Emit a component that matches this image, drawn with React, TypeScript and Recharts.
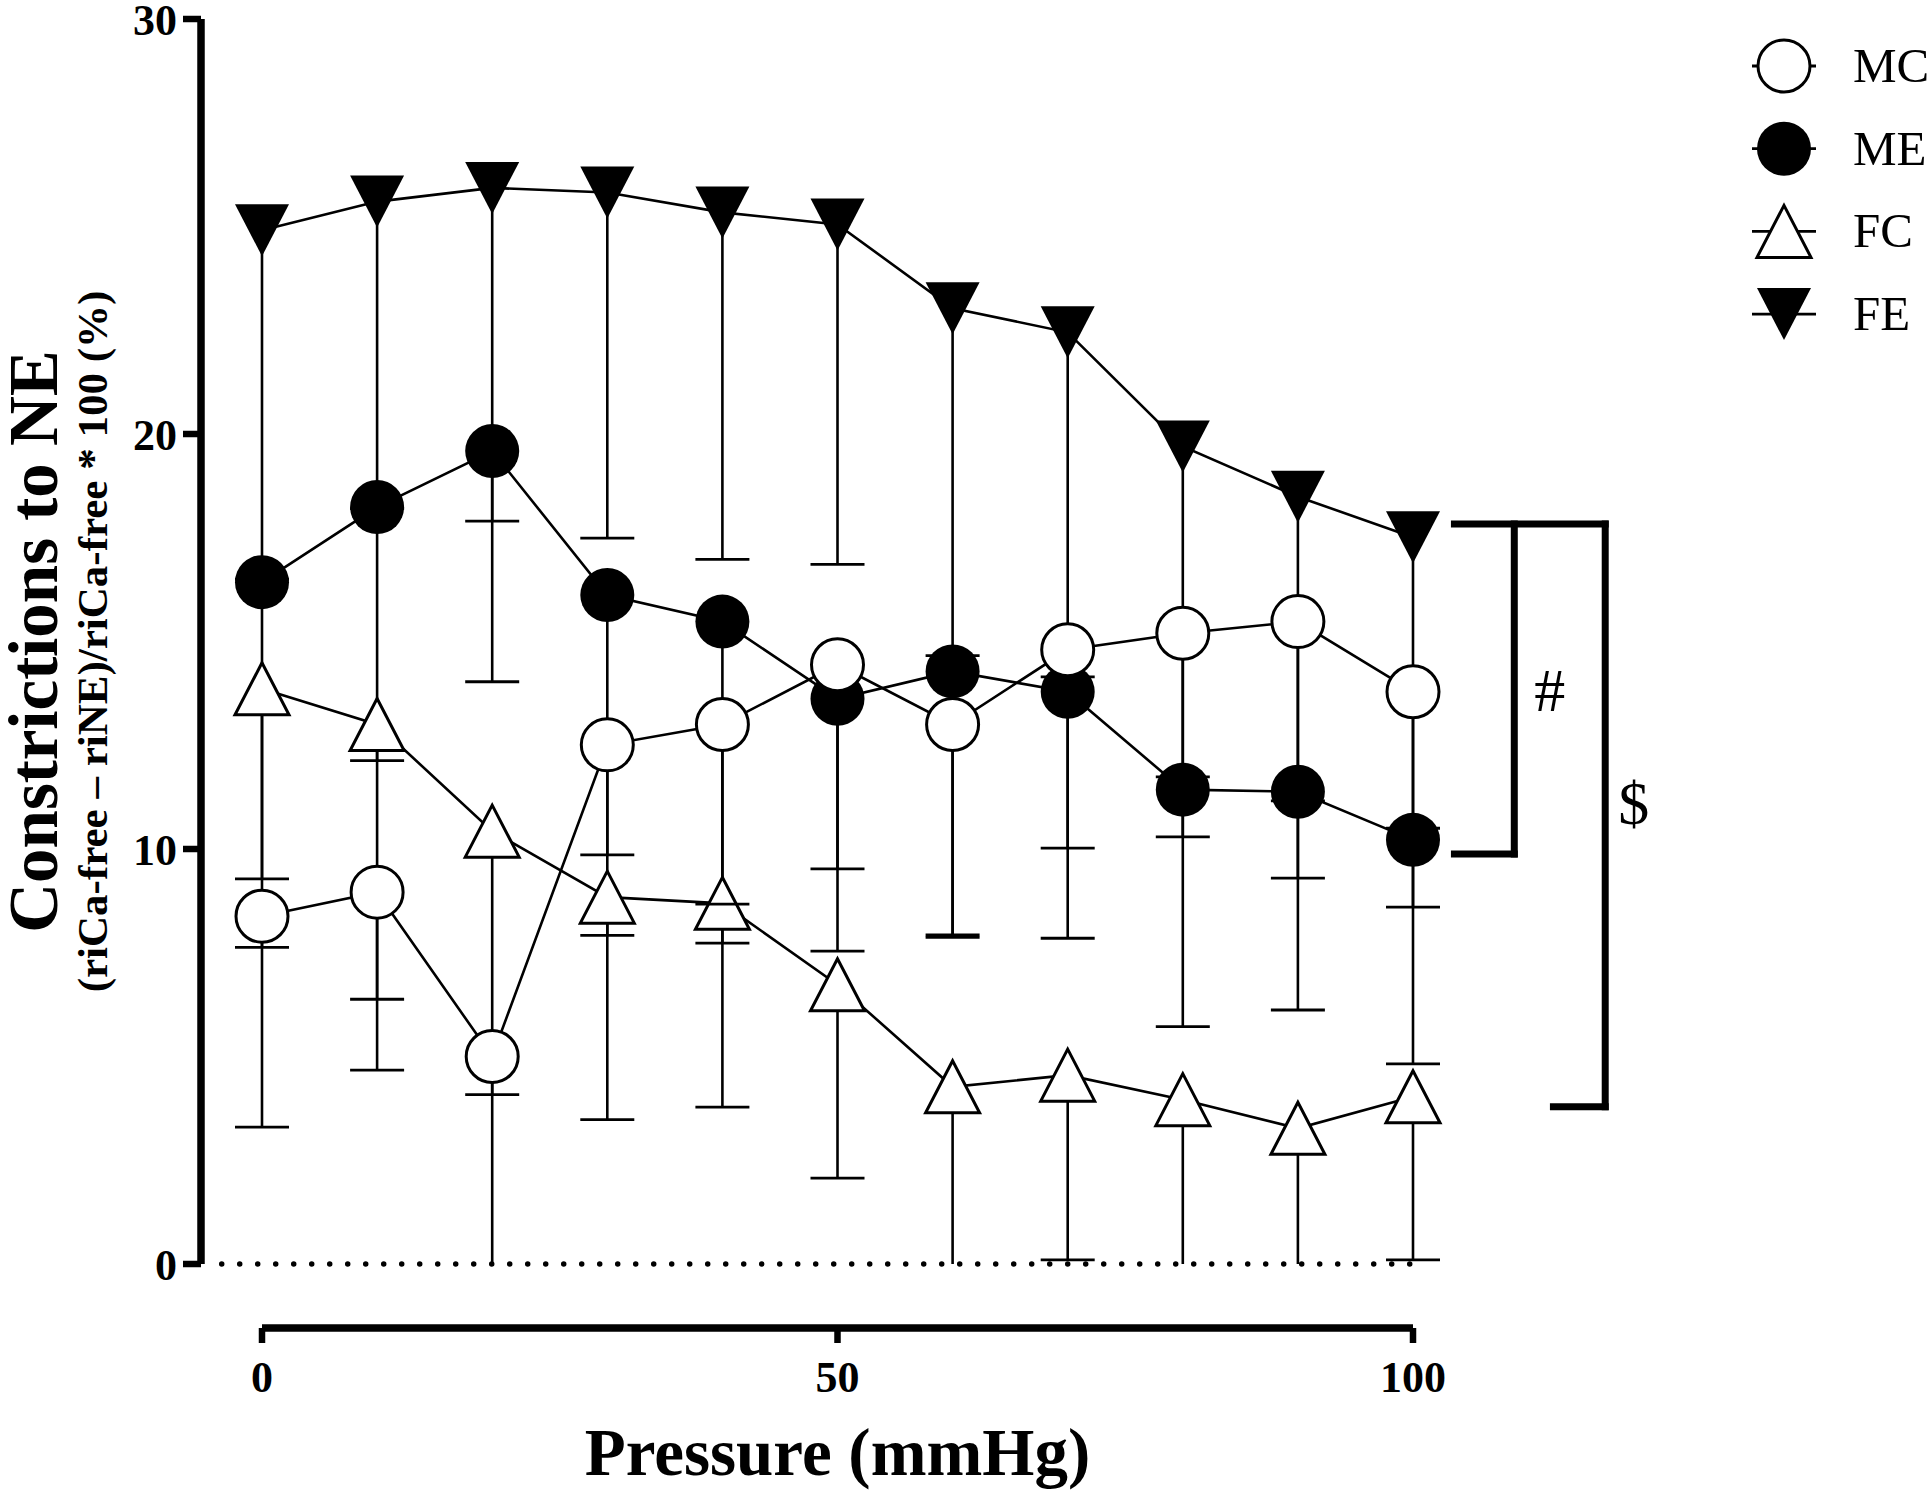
import React from 'react';
import { LineChart, Line, XAxis, YAxis, ErrorBar, ReferenceLine, Legend, Label } from 'recharts';

// ---------- data ----------
const PRESSURE = [0, 10, 20, 30, 40, 50, 60, 70, 80, 90, 100];
const MC = [8.38, 8.96, 5.0, 12.51, 13.0, 14.44, 13.0, 14.8, 15.2, 15.48, 13.79];
const ME = [16.43, 18.24, 19.59, 16.12, 15.48, 13.62, 14.28, 13.79, 11.43, 11.38, 10.22];
const FC = [13.86, 13.0, 10.43, 8.84, 8.69, 6.73, 4.27, 4.55, 3.96, 3.27, 4.03];
const FE = [24.91, 25.6, 25.93, 25.82, 25.34, 25.05, 23.03, 22.45, 19.7, 18.49, 17.51];
// lower ends of the (downward) error bars; 0 = bar runs to the zero line
const MC_LOW = [3.3, 4.67, 0, 7.92, 7.73, 9.52, 7.87, 10.02, 10.29, 9.3, 8.6];
const ME_LOW = [9.28, 12.13, 14.03, 9.86, 8.67, 7.54, 7.93, 7.85, 5.72, 6.12, 4.82];
const FC_LOW = [7.63, 6.38, 4.08, 3.48, 3.78, 2.07, 0, 0.1, 0, 0, 0.1];
const FE_LOW = [16.5, 18.2, 17.9, 17.49, 16.98, 16.86, 14.66, 14.15, 11.74, 11.16, 10.5];

const X_TICKS = [0, 50, 100];
const Y_TICKS = [0, 10, 20, 30];
const SERIES_NAMES = ['MC', 'ME', 'FC', 'FE'];

// significance brackets (data coordinates)
const BR_TOP = 17.83;
const HASH_BOTTOM = 9.88;
const DOLLAR_BOTTOM = 3.79;
const BR_LEFT = 103.6;
const HASH_X = 108.8;
const DOLLAR_LEFT = 112.2;
const DOLLAR_X = 116.7;

const SERIF = '"Liberation Serif", "Times New Roman", Times, serif';

const rows = PRESSURE.map((p, i) => ({
  p,
  mc: MC[i],
  me: ME[i],
  fc: FC[i],
  fe: FE[i],
  mcErr: [MC[i] - MC_LOW[i], 0],
  meErr: [ME[i] - ME_LOW[i], 0],
  fcErr: [FC[i] - FC_LOW[i], 0],
  feErr: [FE[i] - FE_LOW[i], 0],
  mcCap: MC_LOW[i] > 0 ? MC_LOW[i] : null,
  meCap: ME_LOW[i] > 0 ? ME_LOW[i] : null,
  fcCap: FC_LOW[i] > 0 ? FC_LOW[i] : null,
  feCap: FE_LOW[i] > 0 ? FE_LOW[i] : null,
}));

// ---------- marker shapes ----------
const R = 26;
const TW = 27;
const TH = 26;

function shape(kind: string, cx: number, cy: number, key?: any) {
  if (kind === 'MC')
    return <circle key={key} cx={cx} cy={cy} r={R} fill="#fff" stroke="#000" strokeWidth={3} />;
  if (kind === 'ME') return <circle key={key} cx={cx} cy={cy} r={R + 1} fill="#000" />;
  if (kind === 'FC')
    return (
      <polygon
        key={key}
        points={`${cx},${cy - TH} ${cx - TW},${cy + TH} ${cx + TW},${cy + TH}`}
        fill="#fff"
        stroke="#000"
        strokeWidth={3}
        strokeLinejoin="miter"
      />
    );
  return (
    <polygon
      key={key}
      points={`${cx - TW},${cy - TH} ${cx + TW},${cy - TH} ${cx},${cy + TH}`}
      fill="#000"
    />
  );
}

const makeDot = (kind: string) => (props: any) => {
  const { cx, cy, index } = props;
  if (cx == null || cy == null || isNaN(cy)) return <g key={`n-${kind}-${index}`} />;
  return shape(kind, cx, cy, `d-${kind}-${index}`);
};

const makeCap = (kind: string) => (props: any) => {
  const { cx, cy, index } = props;
  if (cx == null || cy == null || isNaN(cy) || props.value == null)
    return <g key={`nc-${kind}-${index}`} />;
  return (
    <line
      key={`c-${kind}-${index}`}
      x1={cx - 27}
      x2={cx + 27}
      y1={cy}
      y2={cy}
      stroke="#000"
      strokeWidth={2.8}
    />
  );
};

// ---------- titles ----------
const YTitle = (props: any) => {
  const vb = props.viewBox || { x: 0, y: 19, width: 201, height: 1245 };
  const cy = vb.y + vb.height / 2;
  const b1 = vb.x + 57;
  const b2 = vb.x + 107;
  return (
    <g>
      <text
        x={b1}
        y={cy}
        transform={`rotate(-90 ${b1} ${cy})`}
        textAnchor="middle"
        fontFamily={SERIF}
        fontWeight="bold"
        fontSize={69}
        fill="#000"
      >
        Constrictions to NE
      </text>
      <text
        x={b2}
        y={cy}
        transform={`rotate(-90 ${b2} ${cy})`}
        textAnchor="middle"
        fontFamily={SERIF}
        fontWeight="bold"
        fontSize={43}
        fill="#000"
      >
        (riCa-free – riNE)/riCa-free * 100 (%)
      </text>
    </g>
  );
};

const XTitle = (props: any) => {
  const vb = props.viewBox || { x: 262, y: 1328, width: 1151, height: 167 };
  return (
    <text
      x={vb.x + vb.width / 2}
      y={vb.y + 147}
      textAnchor="middle"
      fontFamily={SERIF}
      fontWeight="bold"
      fontSize={67}
      fill="#000"
    >
      Pressure (mmHg)
    </text>
  );
};

const LegendBox = () => (
  <svg width={190} height={340} style={{ display: 'block', overflow: 'visible' }}>
    {SERIES_NAMES.map((name, i) => {
      const cy = 46 + i * 82.7;
      return (
        <g key={name}>
          <line x1={12} x2={76} y1={cy} y2={cy} stroke="#000" strokeWidth={2.8} />
          {shape(name, 44, cy)}
          <text x={113} y={cy + 16} fontFamily={SERIF} fontSize={49} fill="#000">
            {name}
          </text>
        </g>
      );
    })}
  </svg>
);

const tickStyle = { fontSize: 44, fontWeight: 'bold', fill: '#000', fontFamily: SERIF } as any;
const axisStroke = { stroke: '#000', strokeWidth: 7.5 } as any;
const tickStroke = { stroke: '#000', strokeWidth: 6.5 } as any;
const br = { stroke: '#000', strokeWidth: 7, strokeLinecap: 'square' } as any;

export default function App() {
  return (
    <div style={{ position: 'absolute', left: 0, top: 0, width: 1930, height: 1495, background: '#fff' }}>
      <LineChart
        width={1930}
        height={1495}
        data={rows}
        margin={{ top: 19, right: 517, bottom: 0, left: 0 }}
      >
        <XAxis xAxisId="pad" type="number" dataKey="p" domain={[0, 100]} height={64} axisLine={false} tickLine={false} tick={false} />
        <XAxis
          xAxisId="x"
          type="number"
          dataKey="p"
          domain={[0, 100]}
          ticks={X_TICKS}
          interval={0}
          height={167}
          axisLine={axisStroke}
          tickLine={tickStroke}
          tickSize={15}
          tickMargin={18}
          tick={tickStyle}
        >
          <Label content={XTitle} />
        </XAxis>
        <YAxis yAxisId="pad" type="number" domain={[0, 30]} width={61} axisLine={false} tickLine={false} tick={false} />
        <YAxis
          yAxisId="y"
          type="number"
          domain={[0, 30]}
          ticks={Y_TICKS}
          interval={0}
          width={201}
          axisLine={axisStroke}
          tickLine={tickStroke}
          tickSize={18}
          tickMargin={6}
          tick={tickStyle}
        >
          <Label content={YTitle} />
        </YAxis>

        <ReferenceLine
          xAxisId="x"
          yAxisId="y"
          segment={[{ x: -3.5, y: 0 }, { x: 99.8, y: 0 }]}
          ifOverflow="visible"
          stroke="#000"
          strokeWidth={5.5}
          strokeDasharray="0 18"
          strokeLinecap="round"
        />

        <Line xAxisId="x" yAxisId="y" dataKey="fc" type="linear" stroke="#000" strokeWidth={2.6} dot={makeDot('FC')} activeDot={false} isAnimationActive={false}>
          <ErrorBar dataKey="fcErr" direction="y" width={0} stroke="#000" strokeWidth={2.6} isAnimationActive={false} />
        </Line>
        <Line xAxisId="x" yAxisId="y" dataKey="fcCap" stroke="none" legendType="none" dot={makeCap('FC')} activeDot={false} isAnimationActive={false} />

        <Line xAxisId="x" yAxisId="y" dataKey="fe" type="linear" stroke="#000" strokeWidth={2.6} dot={makeDot('FE')} activeDot={false} isAnimationActive={false}>
          <ErrorBar dataKey="feErr" direction="y" width={0} stroke="#000" strokeWidth={2.6} isAnimationActive={false} />
        </Line>
        <Line xAxisId="x" yAxisId="y" dataKey="feCap" stroke="none" legendType="none" dot={makeCap('FE')} activeDot={false} isAnimationActive={false} />

        <Line xAxisId="x" yAxisId="y" dataKey="me" type="linear" stroke="#000" strokeWidth={2.6} dot={makeDot('ME')} activeDot={false} isAnimationActive={false}>
          <ErrorBar dataKey="meErr" direction="y" width={0} stroke="#000" strokeWidth={2.6} isAnimationActive={false} />
        </Line>
        <Line xAxisId="x" yAxisId="y" dataKey="meCap" stroke="none" legendType="none" dot={makeCap('ME')} activeDot={false} isAnimationActive={false} />

        <Line xAxisId="x" yAxisId="y" dataKey="mc" type="linear" stroke="#000" strokeWidth={2.6} dot={makeDot('MC')} activeDot={false} isAnimationActive={false}>
          <ErrorBar dataKey="mcErr" direction="y" width={0} stroke="#000" strokeWidth={2.6} isAnimationActive={false} />
        </Line>
        <Line xAxisId="x" yAxisId="y" dataKey="mcCap" stroke="none" legendType="none" dot={makeCap('MC')} activeDot={false} isAnimationActive={false} />

        {/* significance brackets */}
        <ReferenceLine xAxisId="x" yAxisId="y" ifOverflow="visible" segment={[{ x: BR_LEFT, y: BR_TOP }, { x: DOLLAR_X, y: BR_TOP }]} {...br} />
        <ReferenceLine xAxisId="x" yAxisId="y" ifOverflow="visible" segment={[{ x: HASH_X, y: BR_TOP }, { x: HASH_X, y: HASH_BOTTOM }]} {...br}>
          <Label value="#" position="right" offset={20} fontSize={62} fontFamily={SERIF} fill="#000" />
        </ReferenceLine>
        <ReferenceLine xAxisId="x" yAxisId="y" ifOverflow="visible" segment={[{ x: BR_LEFT, y: HASH_BOTTOM }, { x: HASH_X, y: HASH_BOTTOM }]} {...br} />
        <ReferenceLine xAxisId="x" yAxisId="y" ifOverflow="visible" segment={[{ x: DOLLAR_X, y: BR_TOP }, { x: DOLLAR_X, y: DOLLAR_BOTTOM }]} {...br}>
          <Label value="$" position="right" offset={13} dy={-13} fontSize={62} fontFamily={SERIF} fill="#000" />
        </ReferenceLine>
        <ReferenceLine xAxisId="x" yAxisId="y" ifOverflow="visible" segment={[{ x: DOLLAR_LEFT, y: DOLLAR_BOTTOM }, { x: DOLLAR_X, y: DOLLAR_BOTTOM }]} {...br} />

        <Legend
          content={LegendBox}
          verticalAlign="middle"
          align="center"
          layout="horizontal"
          wrapperStyle={{ position: 'absolute', left: 1740, top: 20, width: 190, height: 340 }}
        />
      </LineChart>
    </div>
  );
}
